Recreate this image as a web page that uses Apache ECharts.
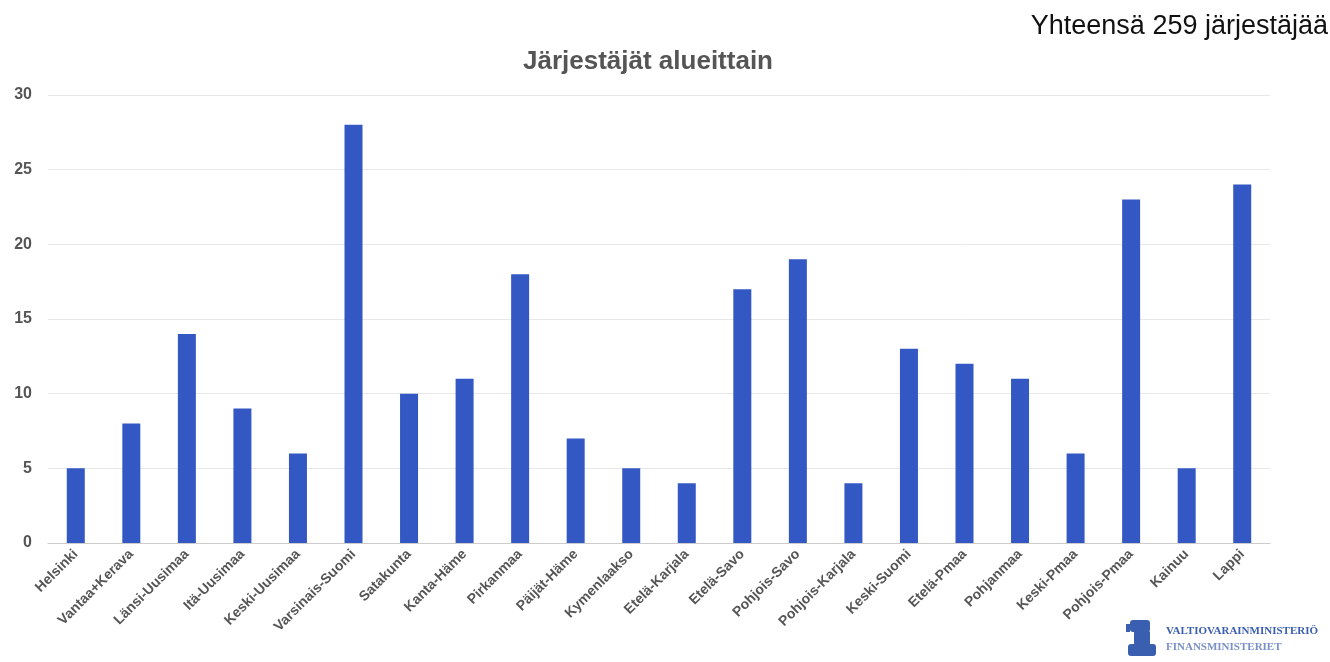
<!DOCTYPE html>
<html>
<head>
<meta charset="utf-8">
<script src="https://cdn.jsdelivr.net/npm/echarts@6/dist/echarts.min.js"></script>
<style>
html,body{margin:0;padding:0;background:#fff;}
#chart{width:1330px;height:662px;}
</style>
</head>
<body>
<div id="chart"></div>
<script>
const categories = ["Helsinki","Vantaa+Kerava","Länsi-Uusimaa","Itä-Uusimaa","Keski-Uusimaa","Varsinais-Suomi","Satakunta","Kanta-Häme","Pirkanmaa","Päijät-Häme","Kymenlaakso","Etelä-Karjala","Etelä-Savo","Pohjois-Savo","Pohjois-Karjala","Keski-Suomi","Etelä-Pmaa","Pohjanmaa","Keski-Pmaa","Pohjois-Pmaa","Kainuu","Lappi"];
const values = [5,8,14,9,6,28,10,11,18,7,5,4,17,19,4,13,12,11,6,23,5,24];
const titleText = "Järjestäjät alueittain";
const totalText = "Yhteensä 259 järjestäjää";
const logoLine1 = "VALTIOVARAINMINISTERIÖ";
const logoLine2 = "FINANSMINISTERIET";

const chart = echarts.init(document.getElementById('chart'));
chart.setOption({
  animation: false,
  backgroundColor: '#fff',
  title: {
    text: titleText,
    left: 643, top: 44, textAlign: 'center',
    textStyle: {fontFamily: 'Liberation Sans, Arial, sans-serif', fontSize: 26, fontWeight: 'bold', color: '#555'}
  },
  grid: {left: 48, right: 60, top: 95, bottom: 119},
  xAxis: {
    type: 'category',
    data: categories,
    axisLine: {lineStyle: {color: '#cccccc'}},
    axisTick: {show: false},
    axisLabel: {rotate: 45, interval: 0, margin: 9, color: '#555', fontWeight: 'bold', fontSize: 14, fontFamily: 'Liberation Sans, Arial, sans-serif'}
  },
  yAxis: {
    type: 'value', min: 0, max: 30, interval: 5,
    axisLine: {show: false}, axisTick: {show: false},
    axisLabel: {margin: 16, color: '#555', fontWeight: 'bold', fontSize: 16, fontFamily: 'Liberation Sans, Arial, sans-serif'},
    splitLine: {lineStyle: {color: '#e8e8e8'}}
  },
  series: [{
    type: 'bar', data: values, barWidth: 18,
    itemStyle: {color: '#3358c4'}
  }],
  graphic: [
    {type: 'text', right: 2, top: 13, style: {text: totalText, fontFamily: 'Liberation Sans, Arial, sans-serif', fontSize: 27, fill: '#111'}},
    {type: 'text', left: 1166, top: 626, style: {text: logoLine1, fontFamily: 'Liberation Serif, serif', fontSize: 11, fontWeight: 'bold', fill: '#3a5fb0'}},
    {type: 'text', left: 1166, top: 642, style: {text: logoLine2, fontFamily: 'Liberation Serif, serif', fontSize: 11, fontWeight: 'bold', fill: '#7a90c8'}},
    {type: 'group', left: 1126, top: 620, children: [
      {type: 'rect', shape: {x: 4, y: 2, width: 20, height: 12, r: 3}, style: {fill: '#3a5fb0'}},
      {type: 'rect', shape: {x: 8, y: 12, width: 16, height: 16, r: 3}, style: {fill: '#3a5fb0'}},
      {type: 'rect', shape: {x: 2, y: 26, width: 28, height: 12, r: 3}, style: {fill: '#3a5fb0'}},
      {type: 'rect', shape: {x: 0, y: 6, width: 4, height: 8}, style: {fill: '#3a5fb0'}}
    ]}
  ]
});
</script>
</body>
</html>
